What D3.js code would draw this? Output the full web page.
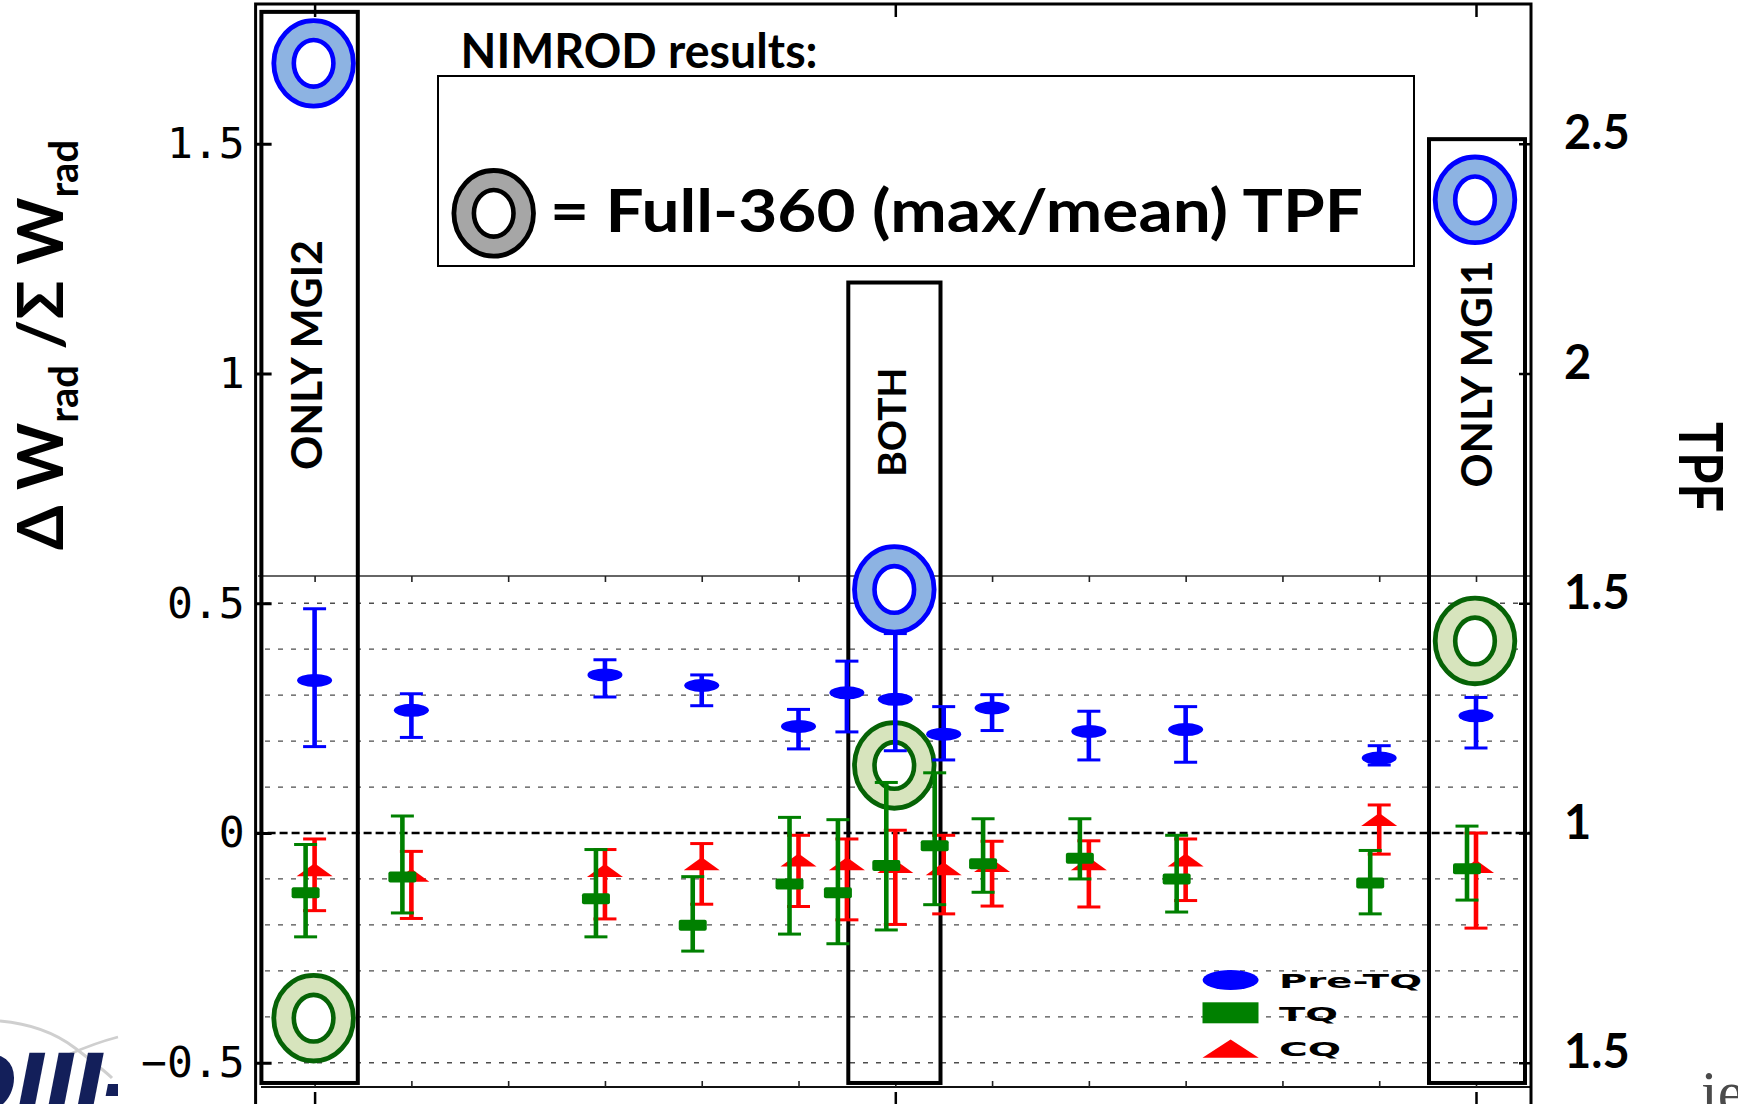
<!DOCTYPE html>
<html>
<head>
<meta charset="utf-8">
<script src="https://cdnjs.cloudflare.com/ajax/libs/d3/7.8.5/d3.min.js"></script>
<style>
  html, body { margin: 0; padding: 0; background: #fff; }
  svg { display: block; }
</style>
</head>
<body>
<svg id="chart"></svg>
<script>
// discharge positions along x
const shotPos = [0, 1, 3, 4, 5, 5.5, 6, 6.5, 7, 8, 9, 11, 12];

// Pre-TQ radiated fraction (centre, upper, lower)
const preTQ   = [0.332, 0.267, 0.344, 0.321, 0.232, 0.305, 0.291, 0.215, 0.272, 0.221, 0.225, 0.163, 0.255];
const preTQHi = [0.488, 0.303, 0.377, 0.344, 0.269, 0.374, 0.434, 0.275, 0.301, 0.265, 0.275, 0.190, 0.295];
const preTQLo = [0.188, 0.208, 0.296, 0.277, 0.183, 0.220, 0.179, 0.159, 0.223, 0.159, 0.154, 0.148, 0.185];

// TQ
const tq   = [-0.130, -0.096, -0.143, -0.201, -0.111, -0.130, -0.071, -0.028, -0.067, -0.055, -0.100, -0.109, -0.078];
const tqHi = [-0.025, 0.037, -0.036, -0.095, 0.034, 0.029, 0.110, 0.131, 0.031, 0.031, -0.005, -0.038, 0.015];
const tqLo = [-0.226, -0.174, -0.226, -0.257, -0.220, -0.241, -0.211, -0.156, -0.129, -0.100, -0.172, -0.176, -0.146];

// CQ
const cq   = [-0.080, -0.092, -0.082, -0.067, -0.059, -0.067, -0.073, -0.078, -0.071, -0.067, -0.059, 0.029, -0.073];
const cqHi = [-0.013, -0.040, -0.036, -0.023, -0.005, -0.013, 0.006, -0.005, -0.018, -0.017, -0.013, 0.061, 0.000];
const cqLo = [-0.169, -0.186, -0.187, -0.155, -0.160, -0.189, -0.199, -0.176, -0.159, -0.161, -0.147, -0.046, -0.207];

// NIMROD full-360 (max/mean) TPF, read on the right axis
const groups = ['ONLY MGI2', 'BOTH', 'ONLY MGI1'];
const groupPos = [0, 6, 12];
const tpfPreTQ = [2.675, 1.530, 2.378];
const tpfTQ = [0.597, 1.147, 1.418];

// ticks
const leftTicks = [-0.5, 0, 0.5, 1, 1.5];
const rightTicks = [0.5, 1, 1.5, 2, 2.5];
const rightTickLabels = ['1.5', '1', '1.5', '2', '2.5'];
const gridValues = [-0.5, -0.4, -0.3, -0.2, -0.1, 0.1, 0.2, 0.3, 0.4, 0.5];
const minorX = d3.range(0, 13);

const legendItems = ['Pre-TQ', 'TQ', 'CQ'];

const W = 1738, H = 1104;
const SANS = 'Lato, "DejaVu Sans", sans-serif';
const BLUE = '#0000ff', GREEN = '#008000', RED = '#ff0000';

const frame = { left: 255.6, right: 1531, top: 4 };
const panel = { top: 576, bottom: 1087, left: 258, right: 1530 };

const x = d3.scaleLinear().domain([0, 12]).range([314.6, 1476]);
const y = d3.scaleLinear().domain([-0.5, 1.5]).range([1062.75, 143.75]);
const yTpf = d3.scaleLinear().domain([0.5, 2.5]).range([1062.75, 143.75]);

const svg = d3.select('#chart').attr('width', W).attr('height', H)
  .style('font-family', SANS);

svg.append('rect').attr('width', W).attr('height', H).attr('fill', '#fff');

// slide background bits (logos, cut off by the slide edge)
const deco = svg.append('g').attr('class', 'deco');
deco.append('clipPath').attr('id', 'logo-clip')
  .append('rect').attr('x', 0).attr('y', 1000).attr('width', 118).attr('height', 104);
deco.append('path')
  .attr('d', 'M0,1021 Q45,1025 75,1048 T112,1078')
  .attr('fill', 'none').attr('stroke', '#cfcfcf').attr('stroke-width', 3);
deco.append('path')
  .attr('d', 'M70,1054 Q95,1043 118,1037')
  .attr('fill', 'none').attr('stroke', '#cfcfcf').attr('stroke-width', 2.5);
deco.append('text')
  .attr('clip-path', 'url(#logo-clip)')
  .attr('x', -52).attr('y', 1114)
  .attr('font-family', '"DejaVu Sans", sans-serif')
  .attr('font-weight', 'bold').attr('font-style', 'italic')
  .attr('font-size', 84).attr('letter-spacing', -2)
  .attr('fill', '#131f5a')
  .text('DIII-');
deco.append('text')
  .attr('x', 1701).attr('y', 1112)
  .attr('font-family', '"Liberation Serif", serif')
  .attr('font-size', 60).attr('fill', '#4a4a4a')
  .text('ie');

// grid of the lower panel
const grid = svg.append('g').attr('class', 'grid');
grid.selectAll('line')
  .data(gridValues)
  .join('line')
  .attr('x1', 265).attr('x2', 1525)
  .attr('y1', d => y(d)).attr('y2', d => y(d))
  .attr('stroke', '#4d4d4d').attr('stroke-width', 1.3)
  .attr('stroke-dasharray', '5,8');

svg.append('line').attr('class', 'zero-line')
  .attr('x1', frame.left).attr('x2', frame.right)
  .attr('y1', y(0)).attr('y2', y(0))
  .attr('stroke', '#000').attr('stroke-width', 2.4)
  .attr('stroke-dasharray', '8,4');

// lower panel frame and its inner ticks
svg.append('line')
  .attr('x1', panel.left).attr('x2', panel.right)
  .attr('y1', panel.top).attr('y2', panel.top)
  .attr('stroke', '#333').attr('stroke-width', 1.5);
svg.append('line')
  .attr('x1', 261).attr('x2', panel.right)
  .attr('y1', panel.bottom).attr('y2', panel.bottom)
  .attr('stroke', '#111').attr('stroke-width', 2);

const axisPanelTop = svg.append('g')
  .attr('transform', `translate(0, ${panel.top})`)
  .call(d3.axisTop(x).tickValues(minorX).tickSizeInner(-6).tickSizeOuter(0).tickFormat(''));
const axisPanelBottom = svg.append('g')
  .attr('transform', `translate(0, ${panel.bottom})`)
  .call(d3.axisBottom(x).tickValues(minorX).tickSizeInner(-6).tickSizeOuter(0).tickFormat(''));
[axisPanelTop, axisPanelBottom].forEach(a => {
  a.select('.domain').remove();
  a.selectAll('.tick line').attr('stroke', '#222').attr('stroke-width', 1.6);
});

// group boxes
const boxExtent = [[-53.2, 43.2], [-47, 45.2], [-47, 49]];
const boxTop = [1.787, 1.198, 1.510];
const boxBottom = -0.544;
const labelY = [1.040, 0.894, 0.999];
const labelDx = [7.2, 10.3, 16];
const labelLen = [230, 109, 227];
const labelSize = [42, 38, 42];

const boxes = svg.append('g').attr('class', 'boxes');
boxes.selectAll('rect')
  .data(groups)
  .join('rect')
  .attr('x', (d, i) => x(groupPos[i]) + boxExtent[i][0])
  .attr('width', (d, i) => boxExtent[i][1] - boxExtent[i][0])
  .attr('y', (d, i) => y(boxTop[i]))
  .attr('height', (d, i) => y(boxBottom) - y(boxTop[i]))
  .attr('fill', 'none').attr('stroke', '#000').attr('stroke-width', 4);

// full-360 rings
function ring(g, cx, cy, fill, stroke) {
  g.append('ellipse').attr('cx', cx).attr('cy', cy).attr('rx', 39.8).attr('ry', 42.8)
    .attr('fill', fill).attr('stroke', stroke).attr('stroke-width', 4.8);
  g.append('ellipse').attr('cx', cx).attr('cy', cy).attr('rx', 19.8).attr('ry', 23.3)
    .attr('fill', '#fff').attr('stroke', stroke).attr('stroke-width', 4.6);
}
const rings = svg.append('g').attr('class', 'rings');
groups.forEach((gname, i) => {
  ring(rings, x(groupPos[i]) - 1, yTpf(tpfTQ[i]), '#d7e4bd', '#066306');
  ring(rings, x(groupPos[i]) - 1, yTpf(tpfPreTQ[i]), '#8db3e2', BLUE);
});

// data series with error bars
const plot = svg.append('g').attr('class', 'series');

function drawSeries(cls, vals, hi, lo, color, dx, shape) {
  const data = shotPos.map((p, i) => ({ p, v: vals[i], hi: hi[i], lo: lo[i] }));
  const g = plot.append('g').attr('class', cls);
  const cx = d => x(d.p) + dx;

  g.selectAll('line.bar').data(data).join('line').attr('class', 'bar')
    .attr('x1', cx).attr('x2', cx)
    .attr('y1', d => y(d.hi)).attr('y2', d => y(d.lo))
    .attr('stroke', color).attr('stroke-width', 4.6);

  ['hi', 'lo'].forEach(k => {
    g.selectAll(`line.cap-${k}`).data(data).join('line').attr('class', `cap-${k}`)
      .attr('x1', d => cx(d) - 11.5).attr('x2', d => cx(d) + 11.5)
      .attr('y1', d => y(d[k])).attr('y2', d => y(d[k]))
      .attr('stroke', color).attr('stroke-width', 3);
  });

  const m = g.selectAll('.marker').data(data);
  if (shape === 'ellipse') {
    m.join('ellipse').attr('class', 'marker')
      .attr('cx', cx).attr('cy', d => y(d.v)).attr('rx', 17.5).attr('ry', 6.5)
      .attr('fill', color);
  } else if (shape === 'rect') {
    m.join('rect').attr('class', 'marker')
      .attr('x', d => cx(d) - 14).attr('y', d => y(d.v) - 5.5)
      .attr('width', 28).attr('height', 11).attr('rx', 2)
      .attr('fill', color);
  } else {
    m.join('path').attr('class', 'marker')
      .attr('transform', d => `translate(${cx(d)}, ${y(d.v)})`)
      .attr('d', 'M-18,6.4 L18,6.4 L0,-6.6 Z')
      .attr('fill', color);
  }
}

drawSeries('cq', cq, cqHi, cqLo, RED, 0, 'triangle');
drawSeries('tq', tq, tqHi, tqLo, GREEN, -9, 'rect');
drawSeries('pretq', preTQ, preTQHi, preTQLo, BLUE, 0, 'ellipse');

// group labels (rotated)
svg.append('g').attr('class', 'group-labels')
  .selectAll('text')
  .data(groups)
  .join('text')
  .attr('transform', (d, i) => `translate(${x(groupPos[i]) + labelDx[i]}, ${y(labelY[i])}) rotate(-90)`)
  .attr('text-anchor', 'middle')
  .attr('font-weight', 'bold')
  .attr('font-size', (d, i) => labelSize[i])
  .attr('textLength', (d, i) => labelLen[i])
  .attr('lengthAdjust', 'spacingAndGlyphs')
  .text(d => d);

// main frame
const frameG = svg.append('g').attr('class', 'frame')
  .attr('stroke', '#000').attr('stroke-width', 3).attr('fill', 'none');
frameG.append('path')
  .attr('d', `M${frame.left},${H} V${frame.top} H${frame.right} V${H}`);

// left axis
const axisL = svg.append('g').attr('class', 'axis-left')
  .attr('transform', `translate(${frame.left}, 0)`)
  .call(d3.axisLeft(y).tickValues(leftTicks).tickSizeInner(-16).tickSizeOuter(0)
    .tickPadding(11).tickFormat(d3.format('.1~f')));
axisL.select('.domain').remove();
axisL.selectAll('.tick line').attr('stroke', '#000').attr('stroke-width', 3);
axisL.selectAll('.tick text')
  .attr('font-family', '"DejaVu Sans Mono", monospace')
  .attr('font-size', 43).attr('fill', '#000');

// right axis (TPF)
const axisR = svg.append('g').attr('class', 'axis-right')
  .attr('transform', `translate(${frame.right}, 0)`)
  .call(d3.axisRight(yTpf).tickValues(rightTicks).tickSizeInner(-12).tickSizeOuter(0)
    .tickPadding(33).tickFormat((d, i) => rightTickLabels[i]));
axisR.select('.domain').remove();
axisR.selectAll('.tick line').attr('stroke', '#000').attr('stroke-width', 2.5);
axisR.selectAll('.tick text')
  .attr('font-family', SANS).attr('font-weight', 'bold')
  .attr('font-size', 47).attr('fill', '#000')
  .attr('y', -10);

// major x ticks of the figure frame
const axisTopMajor = svg.append('g')
  .attr('transform', `translate(0, ${frame.top})`)
  .call(d3.axisTop(x).tickValues(groupPos).tickSizeInner(-13).tickSizeOuter(0).tickFormat(''));
const axisBottomMajor = svg.append('g')
  .attr('transform', `translate(0, 1092)`)
  .call(d3.axisBottom(x).tickValues(groupPos).tickSizeInner(14).tickSizeOuter(0).tickFormat(''));
[axisTopMajor, axisBottomMajor].forEach(a => {
  a.select('.domain').remove();
  a.selectAll('.tick line').attr('stroke', '#000').attr('stroke-width', 2.5);
});

// axis titles
const yTitle = svg.append('text')
  .attr('transform', 'translate(63, 345) rotate(-90)')
  .attr('text-anchor', 'middle')
  .attr('font-weight', 'bold')
  .attr('font-size', 64);
yTitle.append('tspan').text('\u0394 W');
yTitle.append('tspan').attr('font-size', 40).attr('dy', 15).text('rad');
yTitle.append('tspan').attr('dy', -15).text(' /\u03a3 W');
yTitle.append('tspan').attr('font-size', 40).attr('dy', 15).text('rad');

svg.append('text')
  .attr('transform', 'translate(1679, 467) rotate(90)')
  .attr('text-anchor', 'middle')
  .attr('font-weight', 'bold')
  .attr('font-size', 62)
  .attr('textLength', 90).attr('lengthAdjust', 'spacingAndGlyphs')
  .text('TPF');

// NIMROD note box
svg.append('text')
  .attr('x', 460.6).attr('y', 68)
  .attr('font-weight', 'bold').attr('font-size', 48)
  .attr('textLength', 357).attr('lengthAdjust', 'spacingAndGlyphs')
  .text('NIMROD results:');
svg.append('rect')
  .attr('x', 438).attr('y', 76).attr('width', 976).attr('height', 190)
  .attr('fill', 'none').attr('stroke', '#000').attr('stroke-width', 2);
ring(svg.append('g'), 493.7, 213.3, '#a6a6a6', '#000');
svg.append('text')
  .attr('x', 550).attr('y', 232)
  .attr('font-weight', 'bold').attr('font-size', 60)
  .attr('textLength', 813).attr('lengthAdjust', 'spacingAndGlyphs')
  .text('= Full-360 (max/mean) TPF');

// series legend
const legend = svg.append('g').attr('class', 'legend');
legend.append('ellipse').attr('cx', 1230.6).attr('cy', 980).attr('rx', 28).attr('ry', 10).attr('fill', BLUE);
legend.append('rect').attr('x', 1202.5).attr('y', 1002.3).attr('width', 56).attr('height', 21).attr('fill', GREEN);
legend.append('path').attr('d', 'M1202.5,1057.8 L1258.7,1057.8 L1230.6,1039.4 Z').attr('fill', RED);
const legendTextY = [988, 1020.7, 1056];
const legendTextLen = [143, 59, 62];
legend.selectAll('text')
  .data(legendItems)
  .join('text')
  .attr('x', 1279).attr('y', (d, i) => legendTextY[i])
  .attr('font-family', '"DejaVu Sans", sans-serif')
  .attr('font-weight', 'bold').attr('font-size', 19)
  .attr('textLength', (d, i) => legendTextLen[i])
  .attr('lengthAdjust', 'spacingAndGlyphs')
  .text(d => d);
</script>
</body>
</html>
